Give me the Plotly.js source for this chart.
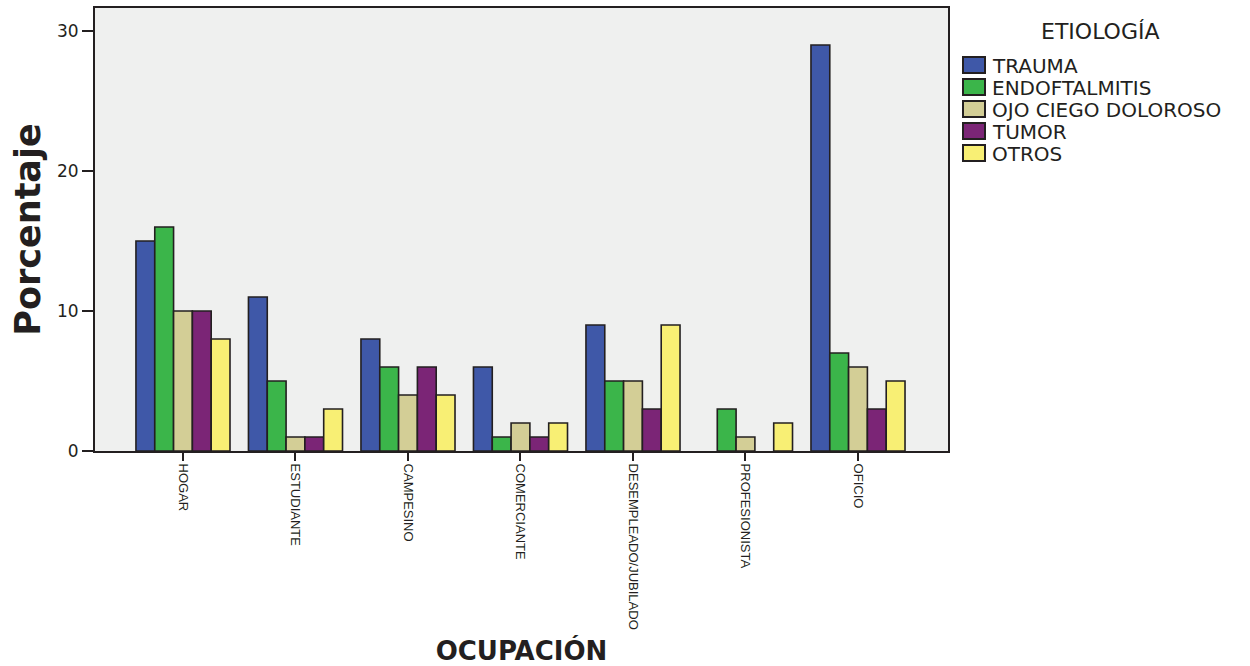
<!DOCTYPE html>
<html>
<head>
<meta charset="utf-8">
<script src="https://cdn.plot.ly/plotly-3.0.1.min.js"></script>
<style>html,body{margin:0;padding:0;background:#fff;}#chart{width:1250px;height:666px;}</style>
</head>
<body>
<div id="chart"></div>
<script>
const categories = ["HOGAR","ESTUDIANTE","CAMPESINO","COMERCIANTE","DESEMPLEADO/JUBILADO","PROFESIONISTA","OFICIO"];
const seriesNames = ["TRAUMA","ENDOFTALMITIS","OJO CIEGO DOLOROSO","TUMOR","OTROS"];
const trauma = [15, 11, 8, 6, 9, 0, 29];
const endoftalmitis = [16, 5, 6, 1, 5, 3, 7];
const ojoCiego = [10, 1, 4, 2, 5, 1, 6];
const tumor = [10, 1, 6, 1, 3, 0, 3];
const otros = [8, 3, 4, 2, 9, 2, 5];
const yTicks = [0, 10, 20, 30];
const legendTitle = "ETIOLOGÍA";

const seriesValues = [trauma, endoftalmitis, ojoCiego, tumor, otros];
const colors = ["#3f58a8", "#3bb54a", "#d3ce96", "#7b2576", "#f8ef74"];
const ink = "#231f20";

// zero-valued bars are not drawn in the reference (no outline at the base)
const data = seriesValues.map((vals, i) => ({
  type: "bar",
  name: seriesNames[i],
  x: categories,
  y: vals.map(v => v === 0 ? null : v),
  marker: {color: colors[i], line: {color: ink, width: 1.6}},
  showlegend: false
}));

const W = 1250, H = 666;
const M = {l: 95, r: 302, t: 8, b: 215};
const pw = W - M.l - M.r, ph = H - M.t - M.b;
const px2x = px => (px - M.l) / pw;
const py2y = py => (H - M.b - py) / ph;

const font = "DejaVu Sans, Liberation Sans, Arial, sans-serif";

// manual legend (swatches + labels) to match the reference spacing
const shapes = [];
const annotations = [{
  xref: "paper", yref: "paper", x: px2x(1100), y: py2y(32),
  xanchor: "center", yanchor: "middle", showarrow: false,
  text: legendTitle, font: {family: font, size: 22, color: ink}
}];
seriesNames.forEach((name, i) => {
  const cy = 65 + i * 22;
  shapes.push({
    type: "rect", xref: "paper", yref: "paper",
    x0: px2x(963), x1: px2x(985), y0: py2y(cy - 8), y1: py2y(cy + 8),
    fillcolor: colors[i], line: {color: ink, width: 2}
  });
  annotations.push({
    xref: "paper", yref: "paper", x: px2x(990), y: py2y(cy + 1),
    xanchor: "left", yanchor: "middle", showarrow: false,
    text: name, font: {family: font, size: 20, color: ink}
  });
});

const layout = {
  width: W, height: H,
  margin: M,
  paper_bgcolor: "#ffffff",
  plot_bgcolor: "#eff0ef",
  barmode: "group",
  bargap: 0.164,
  bargroupgap: 0,
  font: {family: font, color: ink},
  showlegend: false,
  shapes: shapes,
  annotations: annotations,
  xaxis: {
    type: "category",
    range: [-0.782, 6.8],
    tickangle: 90,
    tickfont: {size: 13, family: "Liberation Sans Narrow, Liberation Sans, Arial, sans-serif", color: ink},
    ticks: "outside", ticklen: 8, tickwidth: 2, tickcolor: ink,
    showline: true, linecolor: ink, linewidth: 2, mirror: true,
    showgrid: false, zeroline: false,
    title: {text: "<b>OCUPACIÓN</b>", font: {size: 26, family: font, color: ink}, standoff: 16}
  },
  yaxis: {
    range: [0, 31.64],
    tickvals: yTicks,
    ticktext: yTicks.map(String),
    tickfont: {size: 17, family: font, color: ink},
    ticks: "outside", ticklen: 11, tickwidth: 2, tickcolor: ink,
    showline: true, linecolor: ink, linewidth: 2, mirror: true,
    showgrid: false, zeroline: false,
    title: {text: "<b>Porcentaje</b>", font: {size: 35, family: font, color: ink}, standoff: 6}
  }
};

Plotly.newPlot("chart", data, layout, {displayModeBar: false, staticPlot: true});
</script>
</body>
</html>
